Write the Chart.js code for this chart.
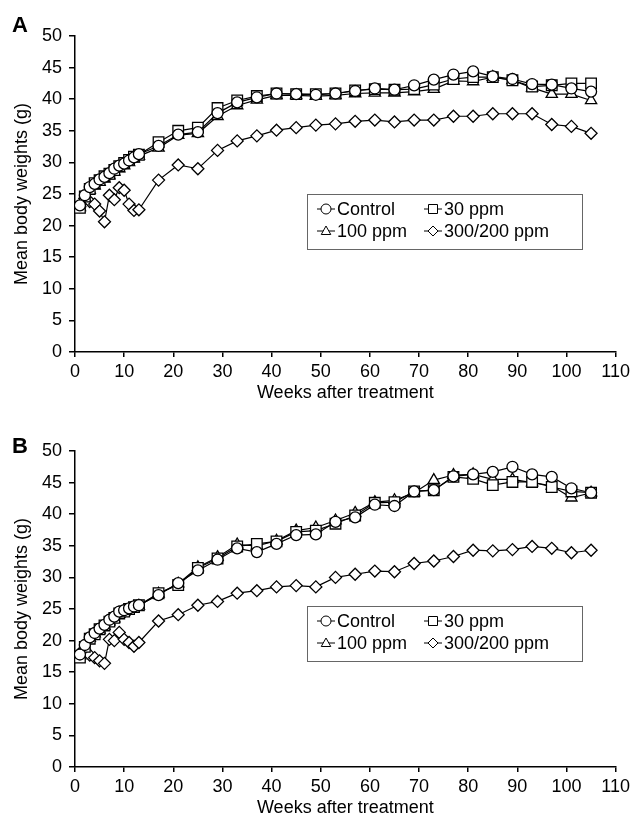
<!DOCTYPE html>
<html lang="en">
<head>
<meta charset="UTF-8">
<title>Mean body weights</title>
<script src="https://cdn.jsdelivr.net/npm/chart.js"></script>
<style>
  html, body { margin: 0; padding: 0; background: #fff; overflow: hidden; }
  canvas { display: block; }
</style>
</head>
<body>
<canvas id="chartA" width="634" height="415"></canvas>
<canvas id="chartB" width="634" height="415"></canvas>
<script>
// weeks after treatment (shared x values)
const weeks = [1, 2, 3, 4, 5, 6, 7, 8, 9, 10, 11, 12, 13, 17, 21, 25, 29, 33, 37, 41, 45, 49,
  53, 57, 61, 65, 69, 73, 77, 81, 85, 89, 93, 97, 101, 105];

const seriesLabels = ['Control', '30 ppm', '100 ppm', '300/200 ppm'];
const xTicks = [0, 10, 20, 30, 40, 50, 60, 70, 80, 90, 100, 110];
const yTicks = [0, 5, 10, 15, 20, 25, 30, 35, 40, 45, 50];

// panel A
const controlA = [23.2, 24.8, 26.1, 26.6, 27.3, 27.7, 28.3, 29.0, 29.5, 29.8, 30.3, 30.8, 31.3, 32.6, 34.4, 34.8,
  37.8, 39.5, 40.3, 40.9, 40.8, 40.7, 40.9, 41.3, 41.7, 41.5, 42.2, 43.1, 43.9, 44.4, 43.6, 43.2, 42.4, 42.3, 41.7, 41.2];
const ppm30A = [22.8, 24.6, 25.8, 26.7, 27.2, 27.8, 28.2, 28.8, 29.4, 29.9, 30.4, 30.9, 31.2, 33.2, 35.0, 35.5,
  38.6, 39.8, 40.5, 40.9, 40.8, 40.8, 40.9, 41.4, 41.6, 41.5, 41.6, 42.3, 43.2, 43.5, 43.5, 43.0, 42.0, 42.2, 42.5, 42.5];
const ppm100A = [22.9, 24.4, 25.6, 26.3, 26.9, 27.4, 27.9, 28.5, 29.0, 29.5, 30.0, 30.6, 31.0, 32.3, 34.3, 34.6,
  37.3, 39.0, 39.9, 40.6, 40.6, 40.5, 40.6, 40.9, 41.0, 41.0, 41.2, 41.6, 42.9, 42.8, 43.5, 43.0, 41.8, 40.8, 40.8, 39.8];
const ppm300A = [23.0, 24.3, 23.8, 23.4, 22.3, 20.6, 24.8, 24.1, 26.0, 25.6, 23.4, 22.4, 22.5, 27.2, 29.6, 29.0,
  31.9, 33.4, 34.2, 35.1, 35.5, 35.9, 36.1, 36.5, 36.7, 36.4, 36.7, 36.7, 37.3, 37.3, 37.7, 37.7, 37.7, 36.0, 35.7, 34.6];

// panel B
const controlB = [17.8, 19.3, 20.5, 21.2, 21.9, 22.5, 23.3, 23.8, 24.6, 24.8, 25.1, 25.4, 25.6, 27.2, 29.1, 31.1,
  32.8, 34.6, 34.0, 35.3, 36.7, 36.8, 38.8, 39.5, 41.5, 41.3, 43.6, 43.8, 46.0, 46.3, 46.7, 47.5, 46.3, 45.9, 44.1, 43.4];
const ppm30B = [17.3, 19.0, 20.3, 21.0, 21.8, 22.4, 23.0, 23.6, 24.3, 24.6, 25.0, 25.3, 25.6, 27.5, 28.8, 31.5,
  33.0, 34.9, 35.3, 35.7, 37.2, 37.4, 38.5, 39.8, 41.8, 41.9, 43.6, 43.8, 45.9, 45.6, 44.6, 45.1, 45.1, 44.3, 43.6, 43.4];
const ppm100B = [17.6, 19.1, 20.4, 21.1, 21.7, 22.3, 23.0, 23.5, 24.2, 24.5, 25.0, 25.3, 25.5, 27.4, 29.0, 31.6,
  33.2, 35.2, 35.0, 35.8, 37.4, 37.9, 39.0, 40.2, 41.9, 42.2, 43.4, 45.4, 46.2, 46.3, 45.5, 45.5, 45.0, 44.5, 42.6, 43.4];
const ppm300B = [18.0, 18.3, 17.7, 17.3, 16.8, 16.4, 20.2, 20.0, 21.3, 20.2, 19.7, 19.1, 19.7, 23.1, 24.1, 25.6,
  26.2, 27.5, 27.9, 28.5, 28.7, 28.5, 30.0, 30.5, 31.0, 30.9, 32.2, 32.6, 33.3, 34.3, 34.2, 34.4, 34.9, 34.6, 33.9, 34.3];

const FONT = '"Liberation Sans", Arial, sans-serif';
const markers = [
  { style: 'circle', r: 5.5 },
  { style: 'rect', r: 7.5 },
  { style: 'triangle', r: 6.5 },
  { style: 'rectRot', r: 6 }
];

function drawMarker(ctx, style, x, y, r) {
  ctx.beginPath();
  if (style === 'circle') {
    ctx.arc(x, y, r, 0, Math.PI * 2);
  } else if (style === 'rect') {
    ctx.rect(x - r, y - r, 2 * r, 2 * r);
  } else if (style === 'triangle') {
    ctx.moveTo(x, y - r);
    ctx.lineTo(x + r * 0.95, y + r * 0.7);
    ctx.lineTo(x - r * 0.95, y + r * 0.7);
    ctx.closePath();
  } else {
    ctx.moveTo(x, y - r);
    ctx.lineTo(x + r, y);
    ctx.lineTo(x, y + r);
    ctx.lineTo(x - r, y);
    ctx.closePath();
  }
  ctx.fill();
  ctx.stroke();
}

// boxed two-column legend + panel letter
const panelDecor = {
  id: 'panelDecor',
  afterDraw(chart, args, opts) {
    const ctx = chart.ctx;
    ctx.save();
    ctx.font = 'bold 22px ' + FONT;
    ctx.fillStyle = '#000';
    ctx.textBaseline = 'middle';
    ctx.fillText(opts.letter, 12, opts.letterY);

    const { x, y, w, h } = opts.legend;
    ctx.fillStyle = '#fff';
    ctx.fillRect(x, y, w, h);
    ctx.strokeStyle = '#666';
    ctx.lineWidth = 1;
    ctx.strokeRect(x + 0.5, y + 0.5, w, h);

    ctx.font = '18px ' + FONT;
    chart.data.datasets.forEach((ds, i) => {
      const col = i % 2, row = Math.floor(i / 2);
      const mx = x + 19 + col * 107;
      const my = y + 15 + row * 22;
      ctx.strokeStyle = '#000';
      ctx.lineWidth = 1;
      ctx.beginPath();
      ctx.moveTo(mx - 9, my);
      ctx.lineTo(mx + 9, my);
      ctx.stroke();
      ctx.fillStyle = '#fff';
      const m = markers[i];
      drawMarker(ctx, m.style, mx, my, m.style === 'rect' ? 4.5 : 5);
      ctx.fillStyle = '#000';
      ctx.fillText(ds.label, mx + 11, my + 1);
    });
    ctx.restore();
  }
};

function buildChart(id, series, letter, letterY, legendY) {
  const datasets = series.map((vals, i) => ({
    label: seriesLabels[i],
    data: weeks.map((w, j) => ({ x: w, y: vals[j] })),
    borderColor: '#000',
    borderWidth: 1.2,
    backgroundColor: '#fff',
    pointStyle: markers[i].style,
    pointRadius: markers[i].r,
    pointBorderWidth: 1.3,
    pointBorderColor: '#000',
    pointBackgroundColor: '#fff',
    tension: 0
  }));

  return new Chart(document.getElementById(id), {
    type: 'line',
    data: { datasets },
    options: {
      responsive: false,
      animation: false,
      events: [],
      layout: { padding: { top: 36, right: 16, left: 0, bottom: 0 } },
      plugins: {
        legend: { display: false },
        tooltip: { enabled: false },
        panelDecor: { letter, letterY, legend: { x: 307, y: legendY, w: 275, h: 55 } }
      },
      scales: {
        x: {
          type: 'linear',
          min: 0,
          max: 110,
          afterBuildTicks: s => { s.ticks = xTicks.map(v => ({ value: v })); },
          afterFit: s => { s.height = 63; },
          ticks: { color: '#000', font: { family: FONT, size: 18 }, padding: 4, maxRotation: 0 },
          grid: { drawOnChartArea: false, drawTicks: true, tickLength: 5, color: '#000', lineWidth: 1.5 },
          border: { display: true, color: '#000', width: 1.5 },
          title: { display: true, text: 'Weeks after treatment', color: '#000',
                   font: { family: FONT, size: 18 }, padding: { top: 0, bottom: 11 } }
        },
        y: {
          min: 0,
          max: 50,
          afterBuildTicks: s => { s.ticks = yTicks.map(v => ({ value: v })); },
          afterFit: s => { s.width = 75; },
          ticks: { color: '#000', font: { family: FONT, size: 18 }, padding: 7 },
          grid: { drawOnChartArea: false, drawTicks: true, tickLength: 6, color: '#000', lineWidth: 1.5 },
          border: { display: true, color: '#000', width: 1.5 },
          title: { display: true, text: 'Mean body weights (g)', color: '#000',
                   font: { family: FONT, size: 18 }, padding: { top: 11, bottom: 0 } }
        }
      }
    },
    plugins: [panelDecor]
  });
}

buildChart('chartA', [controlA, ppm30A, ppm100A, ppm300A], 'A', 26, 194);
buildChart('chartB', [controlB, ppm30B, ppm100B, ppm300B], 'B', 32, 191);
</script>
</body>
</html>
